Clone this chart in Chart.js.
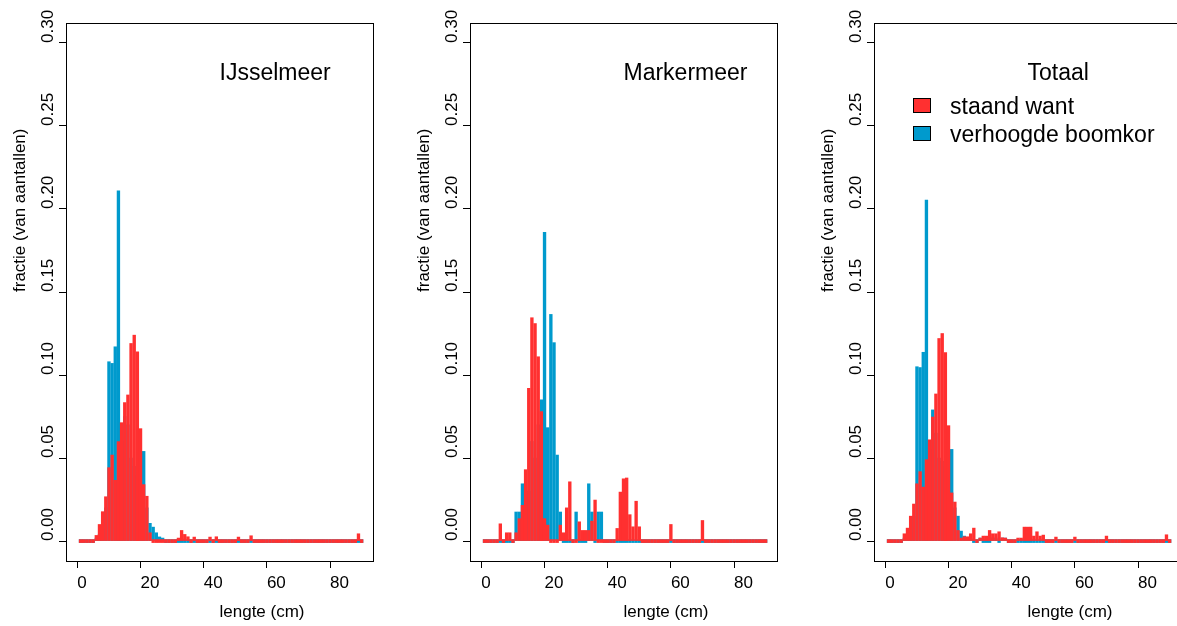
<!DOCTYPE html>
<html>
<head>
<meta charset="utf-8">
<script src="https://cdn.jsdelivr.net/npm/chart.js@4.4.1/dist/chart.umd.min.js"></script>
<style>
  html, body { margin: 0; padding: 0; background: #fff; width: 1177px; height: 626px; overflow: hidden; }
  .panel { position: absolute; top: 0; width: 404px; height: 626px; }
</style>
</head>
<body>
<div class="panel" style="left:0px"><canvas id="c1"></canvas></div>
<div class="panel" style="left:404px"><canvas id="c2"></canvas></div>
<div class="panel" style="left:808px"><canvas id="c3"></canvas></div>
<script>
// lengths (cm), one bar per cm
const lengte = [
  1, 2, 3, 4, 5, 6, 7, 8, 9, 10, 11, 12, 13, 14, 15, 16, 17, 18, 19, 20,
  21, 22, 23, 24, 25, 26, 27, 28, 29, 30, 31, 32, 33, 34, 35, 36, 37, 38, 39, 40,
  41, 42, 43, 44, 45, 46, 47, 48, 49, 50, 51, 52, 53, 54, 55, 56, 57, 58, 59, 60,
  61, 62, 63, 64, 65, 66, 67, 68, 69, 70, 71, 72, 73, 74, 75, 76, 77, 78, 79, 80,
  81, 82, 83, 84, 85, 86, 87, 88, 89, 90
];

const xTicks = [0, 20, 40, 60, 80];
const yTicks = [0, 0.05, 0.10, 0.15, 0.20, 0.25, 0.30];

// IJsselmeer
const ijsStaand = [
  0, 0, 0, 0, 0, 0.0034, 0.010, 0.0177, 0.0267, 0.0442,
  0.0518, 0.0366, 0.0599, 0.0713, 0.0834, 0.088, 0.119, 0.124, 0.114, 0.0677,
  0.034, 0.027, 0.005, 0, 0, 0, 0, 0, 0, 0,
  0, 0.0014, 0.0064, 0.004, 0.0026, 0, 0.0024, 0, 0, 0,
  0, 0.0024, 0, 0.0026, 0, 0, 0, 0, 0, 0,
  0.0024, 0, 0, 0, 0.0032, 0, 0, 0, 0, 0,
  0, 0, 0, 0, 0, 0, 0, 0, 0, 0,
  0, 0, 0, 0, 0, 0, 0, 0, 0, 0,
  0, 0, 0, 0, 0, 0, 0, 0, 0.0044, 0
];
const ijsBoomkor = [
  0, 0, 0, 0, 0, 0.001, 0.004, 0.008, 0.02, 0.108,
  0.107, 0.117, 0.211, 0.06, 0.075, 0.07, 0.05, 0.045, 0.04, 0.035,
  0.054, 0.02, 0.0107, 0.0084, 0.005, 0.0025, 0.001, 0, 0, 0,
  0, 0, 0, 0, 0, 0, 0, 0, 0, 0,
  0, 0, 0, 0, 0, 0, 0, 0, 0, 0,
  0, 0, 0, 0, 0, 0, 0, 0, 0, 0,
  0, 0, 0, 0, 0, 0, 0, 0, 0, 0,
  0, 0, 0, 0, 0, 0, 0, 0, 0, 0,
  0, 0, 0, 0, 0, 0, 0, 0, 0, 0
];

// Markermeer
const mmStaand = [
  0, 0, 0, 0, 0, 0.0104, 0, 0.005, 0.005, 0,
  0.005, 0.0135, 0.0215, 0.043, 0.092, 0.1345, 0.131, 0.111, 0.078, 0.0135,
  0.0096, 0, 0, 0, 0.0096, 0.005, 0.020, 0.0357, 0, 0,
  0.0116, 0.0064, 0.0064, 0.0064, 0.012, 0.0247, 0, 0, 0, 0,
  0, 0, 0.0076, 0.0295, 0.0375, 0.038, 0.0159, 0.0086, 0.024, 0.0086,
  0, 0, 0, 0, 0, 0, 0, 0, 0, 0.010,
  0, 0, 0, 0, 0, 0, 0, 0, 0, 0.0124,
  0, 0, 0, 0, 0, 0, 0, 0, 0, 0,
  0, 0, 0, 0, 0, 0, 0, 0, 0, 0
];
const mmBoomkor = [
  0, 0, 0, 0, 0, 0, 0, 0, 0, 0,
  0.0175, 0.0175, 0.0345, 0.0345, 0.03, 0.06, 0.05, 0.07, 0.085, 0.186,
  0.0683, 0.1365, 0.1195, 0.0518, 0.0175, 0, 0, 0, 0, 0.0175,
  0, 0, 0, 0.0345, 0.0175, 0, 0.0175, 0.0175, 0, 0,
  0, 0, 0, 0, 0, 0, 0, 0, 0, 0,
  0, 0, 0, 0, 0, 0, 0, 0, 0, 0,
  0, 0, 0, 0, 0, 0, 0, 0, 0, 0,
  0, 0, 0, 0, 0, 0, 0, 0, 0, 0,
  0, 0, 0, 0, 0, 0, 0, 0, 0, 0
];

// Totaal
const totStaand = [
  0, 0, 0, 0, 0, 0.0044, 0.0078, 0.015, 0.0223, 0.0345,
  0.0418, 0.0325, 0.049, 0.061, 0.0747, 0.0886, 0.122, 0.125, 0.1135, 0.0695,
  0.029, 0.0235, 0.0064, 0.001, 0.0026, 0.0026, 0.0044, 0.0078, 0, 0.001,
  0.003, 0.003, 0.0064, 0.0044, 0.0044, 0.0056, 0.002, 0.001, 0, 0,
  0, 0.0016, 0.0016, 0.0084, 0.0084, 0.0084, 0.003, 0.0056, 0.003, 0.0036,
  0, 0, 0, 0.0024, 0, 0, 0, 0, 0, 0.0024,
  0, 0, 0, 0, 0, 0, 0, 0, 0, 0.003,
  0, 0, 0, 0, 0, 0, 0, 0, 0, 0,
  0, 0, 0, 0, 0, 0, 0, 0, 0.0038, 0
];
const totBoomkor = [
  0, 0, 0, 0, 0, 0.001, 0.003, 0.007, 0.015, 0.105,
  0.1045, 0.1137, 0.2054, 0.055, 0.079, 0.065, 0.05, 0.048, 0.045, 0.04,
  0.0552, 0.02, 0.015, 0.006, 0.003, 0.0015, 0.001, 0, 0, 0.001,
  0, 0, 0, 0.002, 0.001, 0, 0.001, 0.001, 0, 0,
  0, 0, 0, 0, 0, 0, 0, 0, 0, 0,
  0, 0, 0, 0, 0, 0, 0, 0, 0, 0,
  0, 0, 0, 0, 0, 0, 0, 0, 0, 0,
  0, 0, 0, 0, 0, 0, 0, 0, 0, 0,
  0, 0, 0, 0, 0, 0, 0, 0, 0, 0
];

const RED = "#FF3030";
const BLUE = "#009ACD";
const FONT = "Liberation Sans";

Chart.defaults.font.family = FONT;
Chart.defaults.color = "#000";

// box, tick labels, axis titles, panel title and legend, R style
const rText = {
    id: "rText",
    afterDraw(chart, args, opts) {
        const ctx = chart.ctx;
        const a = chart.chartArea;
        const x = chart.scales.x;
        const y = chart.scales.y;
        const cx = (a.left + a.right) / 2;
        ctx.save();
        ctx.strokeStyle = "#000";
        ctx.lineWidth = 1;
        ctx.strokeRect(a.left + 0.5, a.top + 0.5, a.right - a.left, a.bottom - a.top);

        ctx.fillStyle = "#000";
        ctx.textAlign = "left";
        ctx.textBaseline = "alphabetic";
        ctx.font = "17px '" + FONT + "'";
        x.ticks.forEach(function (t) {
            ctx.fillText(String(t.value), x.getPixelForValue(t.value), 588);
        });
        y.ticks.forEach(function (t) {
            ctx.save();
            ctx.translate(a.left - 13, y.getPixelForValue(t.value));
            ctx.rotate(-Math.PI / 2);
            ctx.fillText(t.value.toFixed(2), 0, 0);
            ctx.restore();
        });

        ctx.save();
        ctx.translate(25, (a.top + a.bottom) / 2);
        ctx.rotate(-Math.PI / 2);
        ctx.fillText("fractie (van aantallen)", 0, 0);
        ctx.restore();

        ctx.fillText("lengte (cm)", cx, 617);

        ctx.font = "23px '" + FONT + "'";
        ctx.fillText(opts.title, cx, 80);

        if (opts.legend) {
            chart.data.datasets.forEach(function (ds, i) {
                const top = 98 + i * 28;
                ctx.fillStyle = ds.backgroundColor;
                ctx.fillRect(a.left + 39, top, 17, 14);
                ctx.strokeRect(a.left + 39.5, top + 0.5, 17, 14);
                ctx.fillStyle = "#000";
                ctx.fillText(ds.label, a.left + 76, top + 16);
            });
        }
        ctx.restore();
    }
};

function makePanel(id, staand, boomkor, title, legend) {
    new Chart(document.getElementById(id), {
        type: "bar",
        data: {
            datasets: [
                {
                    label: "staand want",
                    data: lengte.map((l, i) => ({ x: l, y: staand[i] })),
                    backgroundColor: RED,
                },
                {
                    label: "verhoogde boomkor",
                    data: lengte.map((l, i) => ({ x: l, y: boomkor[i] })),
                    backgroundColor: BLUE,
                },
            ],
        },
        options: {
            responsive: true,
            maintainAspectRatio: false,
            animation: false,
            events: [],
            layout: { padding: { top: 23, right: 31, left: 0, bottom: 0 } },
            datasets: {
                bar: { grouped: false, barThickness: 2.7, minBarLength: 3, borderWidth: 0 },
            },
            plugins: {
                legend: { display: false },
                tooltip: { enabled: false },
                rText: { title: title, legend: legend },
            },
            scales: {
                x: {
                    type: "linear",
                    min: -3.6,
                    max: 93.6,
                    offset: false,
                    afterBuildTicks: s => { s.ticks = xTicks.map(v => ({ value: v })); },
                    afterFit: s => { s.height = 65; },
                    grid: { offset: false, drawOnChartArea: false, drawTicks: true, tickLength: 7, color: "#000" },
                    border: { display: false },
                    ticks: { display: false },
                },
                y: {
                    min: -0.012,
                    max: 0.312,
                    afterBuildTicks: s => { s.ticks = yTicks.map(v => ({ value: v })); },
                    afterFit: s => { s.width = 66; },
                    grid: { offset: false, drawOnChartArea: false, drawTicks: true, tickLength: 7, color: "#000" },
                    border: { display: false },
                    ticks: { display: false },
                },
            },
        },
        plugins: [rText],
    });
}

makePanel("c1", ijsStaand, ijsBoomkor, "IJsselmeer", false);
makePanel("c2", mmStaand, mmBoomkor, "Markermeer", false);
makePanel("c3", totStaand, totBoomkor, "Totaal", true);
</script>
</body>
</html>
